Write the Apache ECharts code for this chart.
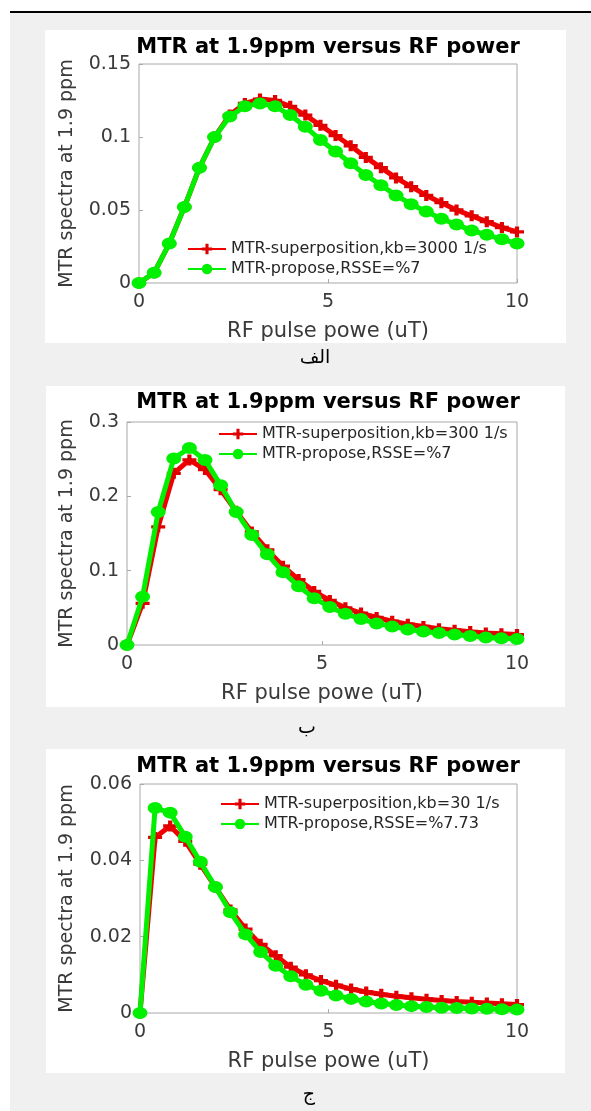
<!DOCTYPE html>
<html lang="en">
<head>
<meta charset="UTF-8">
<title>MTR at 1.9ppm versus RF power</title>
<style>
    * { margin: 0; padding: 0; }
    body { background: #fff; width: 591px; height: 1111px; position: relative; overflow: hidden; }
    .sheet { position: absolute; left: 10px; top: 13px; width: 581px; height: 1098px; background: #f0f0f0; }
    .rule { position: absolute; left: 10px; top: 11px; width: 581px; height: 2px; background: #000; }
    .panel { position: absolute; background: #fff; }
    #chart { position: absolute; left: 0; top: 0; width: 591px; height: 1111px; }
</style>
<script src="https://cdn.jsdelivr.net/npm/echarts@6.0.0/dist/echarts.min.js"></script>
</head>
<body>
<div class="sheet"></div>
<div class="rule"></div>
<div class="panel" style="left:45px;top:30px;width:521px;height:313px"></div>
<div class="panel" style="left:46px;top:386px;width:519px;height:321px"></div>
<div class="panel" style="left:46px;top:749px;width:519px;height:324px"></div>
<div id="chart"></div>

<script>
// RF pulse power (uT), same x for all three panels
var powerUT = [0, 0.4, 0.8, 1.2, 1.6, 2, 2.4, 2.8, 3.2, 3.6, 4, 4.4, 4.8, 5.2, 5.6, 6, 6.4, 6.8, 7.2, 7.6, 8, 8.4, 8.8, 9.2, 9.6, 10];

// panel a (kb = 3000 1/s)
var superKb3000 = [0, 0.007, 0.027, 0.052, 0.079, 0.100, 0.115, 0.123, 0.126, 0.125, 0.121, 0.115, 0.108, 0.101, 0.094, 0.086, 0.079, 0.072, 0.066, 0.060, 0.055, 0.050, 0.046, 0.042, 0.038, 0.035];
var proposeKb3000 = [0, 0.007, 0.027, 0.052, 0.079, 0.100, 0.114, 0.121, 0.123, 0.121, 0.115, 0.107, 0.098, 0.090, 0.082, 0.074, 0.067, 0.060, 0.054, 0.049, 0.044, 0.040, 0.036, 0.033, 0.030, 0.027];

// panel b (kb = 300 1/s)
var superKb300 = [0, 0.056, 0.159, 0.231, 0.249, 0.236, 0.209, 0.180, 0.152, 0.128, 0.106, 0.088, 0.072, 0.060, 0.050, 0.043, 0.037, 0.032, 0.028, 0.025, 0.022, 0.020, 0.018, 0.016, 0.015, 0.014];
var proposeKb300 = [0, 0.065, 0.179, 0.251, 0.265, 0.249, 0.215, 0.179, 0.148, 0.122, 0.098, 0.079, 0.063, 0.051, 0.042, 0.035, 0.029, 0.025, 0.021, 0.018, 0.016, 0.014, 0.012, 0.010, 0.009, 0.008];

// panel c (kb = 30 1/s)
var superKb30 = [0, 0.046, 0.049, 0.045, 0.039, 0.033, 0.027, 0.022, 0.018, 0.015, 0.012, 0.010, 0.0085, 0.0073, 0.0063, 0.0055, 0.0049, 0.0044, 0.0040, 0.0036, 0.0033, 0.0030, 0.0028, 0.0026, 0.0024, 0.0022];
var proposeKb30 = [0, 0.0537, 0.0525, 0.0462, 0.0396, 0.0330, 0.0264, 0.0206, 0.0160, 0.0124, 0.0096, 0.0074, 0.0058, 0.0046, 0.0037, 0.0030, 0.0025, 0.0021, 0.0018, 0.0016, 0.0014, 0.0013, 0.0012, 0.0011, 0.0010, 0.0009];

var redNames = ['MTR-superposition,kb=3000 1/s', 'MTR-superposition,kb=300 1/s', 'MTR-superposition,kb=30 1/s'];
var greenNames = ['MTR-propose,RSSE=%7', 'MTR-propose,RSSE=%7', 'MTR-propose,RSSE=%7.73'];
var yMaxes = [0.15, 0.3, 0.06];
var ySteps = [0.05, 0.1, 0.02];
var captions = ['الف', 'ب', 'ج'];

var titleText = 'MTR at 1.9ppm versus RF power';
var xName = 'RF pulse powe (uT)';
var yName = 'MTR spectra at 1.9 ppm';

// layout of the three stacked panels
var layout = [
    { grid: { left: 139, top: 64, width: 378, height: 219 }, yGap: 62, legend: { left: 187, top: 241 }, title: 37, cap: { x: 315, y: 349 } },
    { grid: { left: 127, top: 422, width: 390, height: 223 }, yGap: 50, legend: { left: 218, top: 426 }, title: 392, cap: { x: 307, y: 719 } },
    { grid: { left: 140, top: 784, width: 377, height: 229 }, yGap: 63, legend: { left: 220, top: 796 }, title: 756, cap: { x: 309, y: 1086 } }
];

var redSets = [superKb3000, superKb300, superKb30];
var greenSets = [proposeKb3000, proposeKb300, proposeKb30];

var plusSymbol = 'path://M35,0H65V35H100V65H65V100H35V65H0V35H35Z';
var font = 'DejaVu Sans';
var axisGray = '#a8a8a8';
var labelColor = '#3a3a3a';

function pairs(ys) {
    return powerUT.map(function (x, i) { return [x, ys[i]]; });
}

var chart = echarts.init(document.getElementById('chart'));
var option = {
    animation: false,
    backgroundColor: 'transparent',
    title: [],
    legend: [],
    grid: [],
    xAxis: [],
    yAxis: [],
    series: []
};

layout.forEach(function (p, k) {
    option.grid.push(Object.assign({ show: true, backgroundColor: '#fff', borderColor: axisGray, borderWidth: 1 }, p.grid));

    option.title.push({
        text: titleText, left: 328, top: p.title, padding: 0,
        textAlign: 'center', textVerticalAlign: 'top',
        textStyle: { fontFamily: font, fontSize: 21, fontWeight: 'bold', color: '#000' }
    });
    option.title.push({
        text: captions[k], left: p.cap.x, top: p.cap.y, padding: 0,
        textAlign: 'center', textVerticalAlign: 'top',
        textStyle: { fontFamily: font, fontSize: 19, fontWeight: 'normal', color: '#000' }
    });

    option.xAxis.push({
        type: 'value', gridIndex: k, min: 0, max: 10, interval: 5,
        name: xName, nameLocation: 'middle', nameGap: 38,
        nameTextStyle: { fontFamily: font, fontSize: 21, color: labelColor },
        axisLine: { show: false },
        axisTick: { inside: true, length: 4, lineStyle: { color: axisGray } },
        axisLabel: { margin: 10, fontFamily: font, fontSize: 19, color: labelColor },
        splitLine: { show: false }
    });
    option.yAxis.push({
        type: 'value', gridIndex: k, min: 0, max: yMaxes[k], interval: ySteps[k],
        name: yName, nameLocation: 'middle', nameGap: p.yGap,
        nameTextStyle: { fontFamily: font, fontSize: 19, color: labelColor },
        axisLine: { show: false },
        axisTick: { inside: true, length: 4, lineStyle: { color: axisGray } },
        axisLabel: { margin: 8, fontFamily: font, fontSize: 19, color: labelColor },
        splitLine: { show: false }
    });

    option.legend.push({
        orient: 'vertical', left: p.legend.left, top: p.legend.top, padding: 0,
        itemWidth: 38, itemHeight: 13, itemGap: 4, selectedMode: false,
        data: [redNames[k], greenNames[k]],
        textStyle: { fontFamily: font, fontSize: 16, color: '#262626' }
    });

    option.series.push({
        type: 'line', name: redNames[k], xAxisIndex: k, yAxisIndex: k,
        data: pairs(redSets[k]), z: 2,
        symbol: plusSymbol, symbolSize: [14, 11],
        lineStyle: { color: '#f00000', width: 5 },
        itemStyle: { color: '#e00000' }
    });
    option.series.push({
        type: 'line', name: greenNames[k], xAxisIndex: k, yAxisIndex: k,
        data: pairs(greenSets[k]), z: 3,
        symbol: 'circle', symbolSize: [15, 12],
        lineStyle: { color: '#00f000', width: 5 },
        itemStyle: { color: '#00f000' }
    });
});

chart.setOption(option);
</script>
</body>
</html>
